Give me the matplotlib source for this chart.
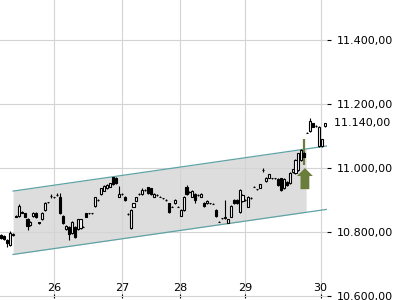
import matplotlib
matplotlib.use('Agg')
import matplotlib.pyplot as plt
from matplotlib.patches import FancyArrow
import numpy as np

# intraday candles, oldest first
opens = [10791, 10788, 10775, 10759, 10794, 10850, 10850, 10862, 10859, 10841,
         10822, 10850, 10860, 10830, 10841, 10869, 10893, 10912, 10909, 10916,
         10910, 10850, 10809, 10815, 10796, 10817, 10809, 10812, 10817, 10859,
         10859, 10858, 10881, 10900, 10919, 10929, 10937, 10942, 10971, 10970,
         10910, 10919, 10910, 10856, 10813, 10879, 10898, 10919, 10919, 10931,
         10940, 10937, 10910, 10916, 10910, 10905, 10900, 10890, 10879, 10890,
         10879, 10851, 10869, 10942, 10925, 10910, 10919, 10916, 10910, 10892,
         10890, 10890, 10889, 10869, 10832, 10843, 10843, 10829, 10848, 10900,
         10900, 10863, 10897, 10900, 10879, 10906, 10942, 10934, 10939, 10994,
         10959, 10970, 10968, 10968, 10966, 10968, 10937, 10957, 10952, 10988,
         10983, 10994, 11025, 11048, 11110, 11116, 11140, 11131, 11069, 11069,
         11131]
highs = [10794, 10790, 10778, 10803, 10797, 10852, 10887, 10865, 10861, 10844,
         10834, 10862, 10862, 10832, 10862, 10895, 10895, 10920, 10911, 10922,
         10922, 10852, 10821, 10818, 10834, 10819, 10842, 10842, 10819, 10861,
         10860, 10860, 10910, 10902, 10939, 10946, 10949, 10954, 10973, 10972,
         10944, 10921, 10912, 10858, 10871, 10892, 10910, 10921, 10938, 10933,
         10942, 10939, 10921, 10918, 10912, 10907, 10902, 10892, 10881, 10902,
         10881, 10871, 10912, 10947, 10927, 10931, 10921, 10918, 10921, 10894,
         10900, 10892, 10891, 10871, 10834, 10845, 10900, 10842, 10883, 10902,
         10902, 10933, 10918, 10902, 10912, 10908, 10944, 10936, 10951, 11001,
         10972, 10982, 10970, 10970, 10968, 10970, 10968, 10959, 10987, 10998,
         11027, 11048, 11058, 11050, 11112, 11156, 11142, 11133, 11131, 11092,
         11142]
lows = [10778, 10775, 10753, 10756, 10788, 10846, 10848, 10858, 10846, 10806,
        10819, 10848, 10845, 10826, 10839, 10867, 10891, 10905, 10907, 10914,
        10855, 10826, 10807, 10775, 10794, 10781, 10807, 10810, 10815, 10846,
        10857, 10856, 10879, 10898, 10917, 10927, 10935, 10940, 10948, 10950,
        10908, 10917, 10898, 10854, 10811, 10877, 10896, 10917, 10917, 10929,
        10919, 10916, 10908, 10914, 10908, 10903, 10898, 10860, 10877, 10888,
        10877, 10849, 10867, 10917, 10923, 10908, 10890, 10914, 10908, 10879,
        10888, 10888, 10887, 10848, 10830, 10841, 10840, 10827, 10846, 10888,
        10888, 10861, 10895, 10898, 10877, 10904, 10940, 10932, 10937, 10987,
        10957, 10968, 10966, 10966, 10945, 10929, 10935, 10945, 10950, 10986,
        10981, 10992, 11023, 11033, 11108, 11114, 11127, 11129, 11067, 11067,
        11129]
closes = [10780, 10778, 10766, 10797, 10791, 10848, 10881, 10860, 10848, 10819,
          10832, 10860, 10848, 10828, 10860, 10892, 10893, 10912, 10909, 10915,
          10858, 10829, 10819, 10794, 10832, 10785, 10840, 10840, 10817, 10848,
          10859, 10858, 10908, 10900, 10937, 10944, 10947, 10952, 10950, 10952,
          10919, 10919, 10900, 10856, 10869, 10890, 10908, 10919, 10931, 10931,
          10921, 10918, 10919, 10916, 10910, 10905, 10900, 10862, 10879, 10900,
          10879, 10869, 10910, 10919, 10925, 10929, 10900, 10916, 10919, 10881,
          10898, 10890, 10889, 10850, 10832, 10843, 10846, 10840, 10881, 10890,
          10890, 10931, 10916, 10900, 10910, 10906, 10942, 10934, 10949, 10994,
          10970, 10980, 10968, 10968, 10947, 10931, 10966, 10947, 10985, 10996,
          11025, 11046, 11056, 11035, 11110, 11148, 11129, 11131, 11129, 11090,
          11140]

day_labels = ['26', '27', '28', '29', '30']
day_pos = [18.0, 41.1, 60.8, 82.9, 108.5]   # in candle index units

price_ticks = [10600, 10800, 11000, 11200, 11400]
last_price = 11140

# trend channel (index, value) end points
chan_x = [4.1, 110.7]
chan_upper = [10928, 11069]
chan_lower = [10730, 10871]
chan_fill_end = 103.6

# buy signal
signal_idx = 103
signal_range = [11010, 11092]
arrow_top = 11000
arrow_bottom = 10934


def de_fmt(v):
    s = '{:,.2f}'.format(v)
    return s.replace(',', 'X').replace('.', ',').replace('X', '.')


fig = plt.figure(figsize=(4, 3), dpi=100)
ax = fig.add_axes([0, 2 / 300, 327 / 400, 298 / 300])

x = np.arange(len(opens))
o = np.array(opens)
c = np.array(closes)

# channel
ax.plot(chan_x, chan_upper, color='#5fa3a6', lw=0.9, zorder=2)
ax.plot(chan_x, chan_lower, color='#5fa3a6', lw=0.9, zorder=2)
fx = np.array([chan_x[0], chan_fill_end])
ax.fill_between(fx, np.interp(fx, chan_x, chan_lower), np.interp(fx, chan_x, chan_upper),
                color='#dddddd', lw=0, zorder=0.3)

# signal candle highlight
ax.vlines(signal_idx, signal_range[0], signal_range[1], color='#6b7d3a', lw=1.6, zorder=2.5)

# candles
ax.vlines(x, lows, highs, color='black', lw=0.8, zorder=3)
face = np.where(c >= o, 'white', 'black')
ax.bar(x, c - o, bottom=o, width=0.7, color=face, edgecolor='black', lw=0.8, zorder=4)

# arrow
ax.add_patch(FancyArrow(signal_idx + 0.2, arrow_bottom, 0, arrow_top - arrow_bottom,
                        width=3.0, head_width=5.4, head_length=25,
                        length_includes_head=True, color='#6b7d3a', lw=0, zorder=5))

ax.set_xlim(-0.34, 110.7)
ax.set_ylim(10594, 11525)

ax.set_xticks(day_pos)
ax.set_xticklabels(day_labels)
ax.tick_params(axis='x', direction='in', length=3, pad=-11, labelsize=8, color='black')

ax.yaxis.tick_right()
ax.set_yticks(price_ticks)
ax.set_yticklabels([de_fmt(v) for v in price_ticks])
ax.tick_params(axis='y', direction='out', length=3, pad=4, labelsize=8, color='black')

ax.text(1.0, last_price, '  ' + de_fmt(last_price), transform=ax.get_yaxis_transform(),
        va='center', ha='left', fontsize=8, clip_on=False)

ax.grid(True, color='#d4d4d4', lw=0.8)
ax.set_axisbelow(True)
for s in ax.spines.values():
    s.set_visible(False)

fig.savefig('out.png', dpi=100)
